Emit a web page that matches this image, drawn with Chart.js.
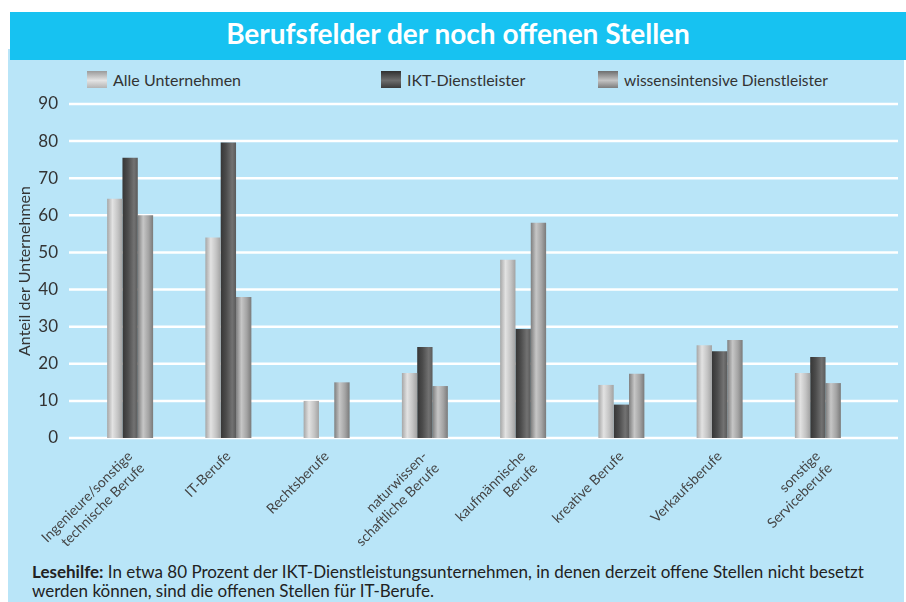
<!DOCTYPE html>
<html>
<head>
<meta charset="utf-8">
<script src="https://cdn.jsdelivr.net/npm/chart.js@4/dist/chart.umd.min.js"></script>
<style>
  html, body { margin:0; padding:0; background:#ffffff; }
  #stage { position:relative; width:906px; height:602px; overflow:hidden; font-family: Lato, "Open Sans", sans-serif; }
  #panel { position:absolute; left:8px; top:49px; width:896px; height:553px; background:#b9e5f8; }
  #title { position:absolute; left:10px; top:12px; width:896px; height:48px; background:#17c2f1; color:#ffffff;
           font-weight:700; font-size:28px; line-height:42px; text-align:center; }
  .lg { position:absolute; top:71px; height:18px; font-size:16px; line-height:18px; color:#333; white-space:nowrap; }
  .lg i { position:absolute; left:0; top:0; width:20px; height:17px; }
  .lg span { position:absolute; left:26px; top:0; }
  #note { position:absolute; left:32px; top:562px; font-size:17px; line-height:19px; color:#222; white-space:nowrap; }
  #c { position:absolute; left:0; top:0; }
</style>
</head>
<body>
<div id="stage">
  <div id="panel"></div>
  <div id="title">Berufsfelder der noch offenen Stellen</div>
  <div class="lg" style="left:87px"><i style="background:linear-gradient(#9a9a9a,#e4e4e4 55%,#b4b4b4)"></i><span>Alle Unternehmen</span></div>
  <div class="lg" style="left:381px"><i style="background:linear-gradient(#303030,#6e6e6e 55%,#3a3a3a)"></i><span>IKT-Dienstleister</span></div>
  <div class="lg" style="left:598px"><i style="background:linear-gradient(#6e6e6e,#c4c4c4 55%,#7c7c7c)"></i><span style="font-size:15.5px">wissensintensive Dienstleister</span></div>
  <div id="note"><b>Lesehilfe:</b> In etwa 80 Prozent der IKT-Dienstleistungsunternehmen, in denen derzeit offene Stellen nicht besetzt<br>werden können, sind die offenen Stellen für IT-Berufe.</div>
  <canvas id="c" width="906" height="602"></canvas>
</div>
<script>
const categories = [
  ["Ingenieure/sonstige", "technische Berufe"],
  "IT-Berufe",
  "Rechtsberufe",
  ["naturwissen-", "schaftliche Berufe"],
  ["kaufmännische", "Berufe"],
  "kreative Berufe",
  "Verkaufsberufe",
  ["sonstige", "Serviceberufe"]
];
const seriesNames = ["Alle Unternehmen", "IKT-Dienstleister", "wissensintensive Dienstleister"];
const alleUnternehmen = [64.5, 54, 10, 17.5, 48, 14.3, 25, 17.5];
const iktDienstleister = [75.5, 79.6, null, 24.5, 29.4, 9, 23.4, 21.8];
const wissensintensive = [60, 38, 15, 14, 58, 17.3, 26.4, 14.8];
const yTicks = [0, 10, 20, 30, 40, 50, 60, 70, 80, 90];

const barStops = [
  [[0, "#a6a6a6"], [0.35, "#e2e2e2"], [0.7, "#c4c4c4"], [1, "#a2a2a2"]],
  [[0, "#363636"], [0.35, "#4c4c4c"], [0.75, "#727272"], [1, "#5a5a5a"]],
  [[0, "#7e7e7e"], [0.35, "#c6c6c6"], [0.7, "#a4a4a4"], [1, "#7a7a7a"]]
];

const gridPlugin = {
  id: "extGrid",
  beforeDatasetsDraw(chart) {
    const ctx = chart.ctx, y = chart.scales.y;
    ctx.save();
    ctx.strokeStyle = "#ffffff";
    ctx.lineWidth = 2.5;
    yTicks.forEach(v => {
      const py = y.getPixelForValue(v);
      ctx.beginPath();
      ctx.moveTo(69, py);
      ctx.lineTo(898, py);
      ctx.stroke();
    });
    ctx.restore();
    chart.data.datasets.forEach((ds, i) => {
      const meta = chart.getDatasetMeta(i);
      meta.data.forEach(el => {
        if (!el || !isFinite(el.x) || !isFinite(el.width)) return;
        const l = el.x - el.width / 2;
        const g = ctx.createLinearGradient(l, 0, l + el.width, 0);
        barStops[i].forEach(s => g.addColorStop(s[0], s[1]));
        el.options = Object.assign({}, el.options, { backgroundColor: g });
      });
    });
  }
};

new Chart(document.getElementById("c"), {
  type: "bar",
  data: {
    labels: categories,
    datasets: [
      { label: seriesNames[0], data: alleUnternehmen, backgroundColor: "#cccccc" },
      { label: seriesNames[1], data: iktDienstleister, backgroundColor: "#555555" },
      { label: seriesNames[2], data: wissensintensive, backgroundColor: "#a0a0a0" }
    ]
  },
  options: {
    responsive: false,
    animation: false,
    events: [],
    datasets: { bar: { categoryPercentage: 0.468, barPercentage: 1, borderWidth: 0 } },
    layout: { padding: { left: 10, right: 39, top: 104, bottom: 44 } },
    plugins: { legend: { display: false }, tooltip: { enabled: false }, title: { display: false } },
    scales: {
      x: {
        grid: { display: false },
        border: { display: false },
        ticks: {
          autoSkip: false, minRotation: 45, maxRotation: 45, padding: 2,
          color: "#444", font: { family: "Lato", size: 14 }
        },
        afterFit(s) { s.height = 120; }
      },
      y: {
        min: 0, max: 90,
        grid: { display: false },
        border: { display: false },
        afterBuildTicks(s) { s.ticks = yTicks.map(v => ({ value: v })); },
        ticks: { padding: 15, color: "#333", font: { family: "Lato", size: 17 } },
        title: {
          display: true, text: "Anteil der Unternehmen", color: "#333",
          font: { family: "Lato", size: 16 }, padding: { top: 5, bottom: 0 }
        },
        afterFit(s) { s.width = 71; }
      }
    }
  },
  plugins: [gridPlugin]
});
</script>
</body>
</html>
